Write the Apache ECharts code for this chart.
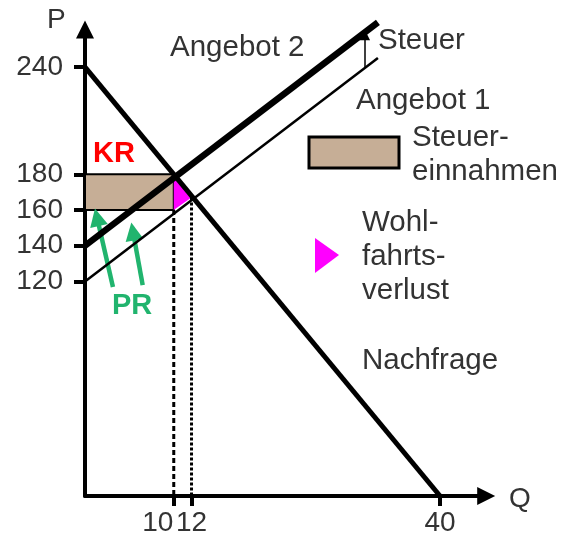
<!DOCTYPE html>
<html>
<head>
<meta charset="utf-8">
<script src="https://cdn.jsdelivr.net/npm/echarts@6/dist/echarts.min.js"></script>
<style>
  html, body { margin: 0; padding: 0; background: #fff; }
  #chart { width: 578px; height: 542px; }
</style>
</head>
<body>
<div id="chart"></div>
<script>
// Steuer-Diagramm: Angebot / Nachfrage mit Mengensteuer
const FONT = '"Liberation Sans", Arial, sans-serif'
const TEXT = '#333333'

const qTicks = [10, 12, 40]
const pTicks = [120, 140, 160, 180, 240]

const demand = [[0, 240], [40, 0]]            // Nachfrage
const supply1 = [[0, 120], [33, 245]]         // Angebot 1
const supply2 = [[0, 140], [33, 265]]         // Angebot 2 (mit Steuer)
const taxRevenue = [[0, 160], [10, 160], [10, 180], [0, 180]]
const welfareLoss = [[10, 180], [10, 160], [12, 167]]
const guideQ10 = [[10, 160], [10, 0]]
const guideQ12 = [[12, 167], [12, 0]]
const taxArrow = [[31.5, 240], [31.5, 258]]
const prArrows = [
  [[3.15, 117], [1.35, 156]],
  [[6.5, 118], [5.4, 148]]
]

const chart = echarts.init(document.getElementById('chart'))

const polygon = (points, style) => ({
  type: 'custom',
  coordinateSystem: 'cartesian2d',
  data: [0],
  silent: true,
  renderItem: (params, api) => ({
    type: 'polygon',
    shape: { points: points.map(p => api.coord(p)) },
    style: style
  })
})

const line = (data, width, extra) => Object.assign({
  type: 'line',
  data: data,
  showSymbol: false,
  symbol: 'none',
  clip: false,
  silent: true,
  lineStyle: { color: '#000', width: width, cap: 'butt' }
}, extra || {})

const label = (text, x, y, opts) => ({
  type: 'text',
  x: x,
  y: y,
  style: Object.assign({
    text: text,
    fontSize: 29.5,
    fontFamily: FONT,
    fill: TEXT,
    textVerticalAlign: 'middle'
  }, opts || {})
})

chart.setOption({
  backgroundColor: '#ffffff',
  animation: false,
  grid: { left: 85, right: 91.8, top: 29.5, bottom: 46 },
  xAxis: {
    type: 'value',
    min: 0,
    max: 45.2,
    splitLine: { show: false },
    axisLine: {
      lineStyle: { color: '#000', width: 4 },
      symbol: ['none', 'triangle'],
      symbolSize: [18, 18]
    },
    axisTick: { customValues: qTicks, length: 10, lineStyle: { color: '#000', width: 4 } },
    axisLabel: {
      customValues: qTicks,
      margin: 13,
      formatter: v => v === 10 ? '{a|10}' : '{b|' + v + '}',
      rich: {
        a: { fontSize: 28, fontFamily: FONT, color: TEXT, padding: [0, 32, 0, 0] },
        b: { fontSize: 28, fontFamily: FONT, color: TEXT }
      }
    }
  },
  yAxis: {
    type: 'value',
    min: 0,
    max: 261,
    splitLine: { show: false },
    axisLine: {
      lineStyle: { color: '#000', width: 4 },
      symbol: ['none', 'triangle'],
      symbolSize: [18, 18]
    },
    axisTick: { customValues: pTicks, length: 11, lineStyle: { color: '#000', width: 4 } },
    axisLabel: {
      customValues: pTicks,
      margin: 22,
      fontSize: 28,
      fontFamily: FONT,
      color: TEXT
    }
  },
  series: [
    polygon(taxRevenue, { fill: '#c6ae96', stroke: '#000', lineWidth: 2 }),
    polygon(welfareLoss, { fill: '#ff00ff' }),
    line(guideQ10, 3, { lineStyle: { color: '#000', width: 3, type: [5, 3] } }),
    line(guideQ12, 3, { lineStyle: { color: '#000', width: 3, type: [3, 2] } }),
    line(demand, 5),
    line(supply1, 2.5),
    line(supply2, 6.5),
    {
      type: 'lines',
      coordinateSystem: 'cartesian2d',
      silent: true,
      symbol: ['none', 'triangle'],
      symbolSize: [10, 11],
      lineStyle: { color: '#000', width: 1.5, opacity: 1 },
      data: [{ coords: taxArrow }]
    },
    {
      type: 'lines',
      coordinateSystem: 'cartesian2d',
      silent: true,
      symbol: ['none', 'triangle'],
      symbolSize: [17, 18],
      lineStyle: { color: '#21b46e', width: 4.5, opacity: 1 },
      data: prArrows.map(c => ({ coords: c }))
    }
  ],
  graphic: [
    label('P', 47, 20, { fontSize: 28 }),
    label('Q', 509, 499, { fontSize: 28 }),
    label('Angebot 2', 170, 48),
    label('Steuer', 378, 41),
    label('Angebot 1', 356, 101),
    label('Steuer-', 412, 138),
    label('einnahmen', 412, 172),
    label('Wohl-', 362, 223),
    label('fahrts-', 362, 257),
    label('verlust', 362, 291),
    label('Nachfrage', 362, 361),
    label('KR', 93, 154, { fill: '#ff0000', fontWeight: 'bold', fontSize: 29 }),
    label('PR', 112, 306, { fill: '#21b46e', fontWeight: 'bold', fontSize: 29 }),
    {
      type: 'rect',
      shape: { x: 309, y: 137, width: 90, height: 31 },
      style: { fill: '#c6ae96', stroke: '#000', lineWidth: 3 }
    },
    {
      type: 'polygon',
      shape: { points: [[315, 238], [315, 273], [339, 255]] },
      style: { fill: '#ff00ff' }
    }
  ]
})
</script>
</body>
</html>
